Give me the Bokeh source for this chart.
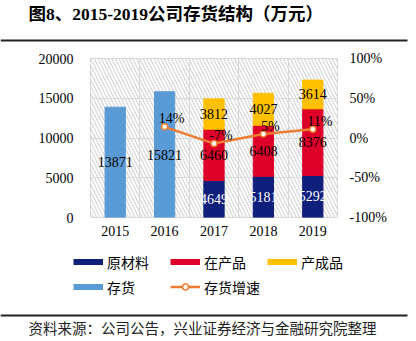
from bokeh.plotting import figure
from bokeh.layouts import column
from bokeh.models import (ColumnDataSource, Range1d, LinearAxis, FixedTicker, Label,
                          BoxAnnotation, Legend, LegendItem, FactorRange)
from bokeh.core.properties import value
from bokeh.embed import file_html
from bokeh.resources import INLINE

# ---------------- data ----------------
years = ["2015", "2016", "2017", "2018", "2019"]
inventory_years = ["2015", "2016"]
inventory_values = [13871, 15821]
stack_years = ["2017", "2018", "2019"]
raw_material = [4649, 5181, 5292]
work_in_progress = [6460, 6408, 8376]
finished_goods = [3812, 4027, 3614]
growth_years = ["2016", "2017", "2018", "2019"]
growth_pct = [14, -7, 5, 11]
left_ticks = [0, 5000, 10000, 15000, 20000]
right_ticks = [-100, -50, 0, 50, 100]
series_names = ["原材料", "在产品", "产成品", "存货", "存货增速"]
title_text = "图8、2015-2019公司存货结构（万元）"
source_text = "资料来源：公司公告，兴业证券经济与金融研究院整理"

# ---------------- style ----------------
NAVY = "#0E1F7C"
RED = "#DF0029"
YELLOW = "#FFC000"
LBLUE = "#5B9BD5"
ORANGE = "#ED7D31"
GRID = "#D9D9D9"
HATCH = "#D6D6D6"
RULE = "#222222"
SERIF = "Liberation Serif"
CJK = "Noto Sans CJK SC"
BAR_W = 0.41
W = 416


def blank_fig(h):
    f = figure(width=W, height=h, x_range=Range1d(0, W), y_range=Range1d(0, h),
               x_axis_type=None, y_axis_type=None, output_backend="svg",
               toolbar_location=None, min_border=0)
    f.frame_align = False
    f.grid.visible = False
    f.outline_line_color = None
    f.background_fill_color = "white"
    f.border_fill_color = "white"
    return f


def rule(top, bottom):
    return BoxAnnotation(left=0, right=407, top=top, bottom=bottom, left_units="screen",
                         right_units="screen", top_units="screen", bottom_units="screen",
                         fill_color=RULE, fill_alpha=1, line_alpha=0)


# ---------------- header ----------------
TOP_H = 50
head = blank_fig(TOP_H)
head.add_layout(Label(x=28, y=TOP_H - 13, x_units="screen", y_units="screen", text=title_text,
                      text_font=f"{SERIF}, {CJK}", text_font_style="bold",
                      text_font_size="17.5px", text_baseline="middle", text_color="black"))
head.add_layout(rule(TOP_H - 39, TOP_H - 41))

# ---------------- main chart ----------------
p = figure(x_range=FactorRange(*years), y_range=Range1d(0, 20000),
           width=W, height=195, output_backend="svg", toolbar_location=None,
           min_border_left=90, min_border_right=79, min_border_top=8, min_border_bottom=28)
p.frame_align = False
p.extra_y_ranges = {"pct": Range1d(-100, 100)}
p.background_fill_color = "white"
p.border_fill_color = "white"
p.outline_line_color = GRID

p.add_layout(BoxAnnotation(fill_alpha=0, line_alpha=0, hatch_pattern="\\", hatch_color=HATCH,
                           hatch_scale=7, hatch_weight=1.2, level="image"))

p.ygrid.ticker = FixedTicker(ticks=left_ticks)
p.ygrid.grid_line_color = GRID
p.xgrid.ticker = FixedTicker(ticks=list(range(len(years) + 1)))
p.xgrid.grid_line_color = GRID

p.yaxis.ticker = FixedTicker(ticks=left_ticks)
for ax in [p.yaxis[0], p.xaxis[0]]:
    ax.axis_line_color = None
    ax.major_tick_line_color = None
    ax.minor_tick_line_color = None
    ax.major_tick_out = 0
    ax.major_label_text_font = SERIF
    ax.major_label_text_font_size = "14px"
    ax.major_label_text_color = "#000000"
p.yaxis.major_label_standoff = 17
p.xaxis.major_label_standoff = 8

raxis = LinearAxis(y_range_name="pct", ticker=FixedTicker(ticks=right_ticks),
                   major_label_overrides={t: f"{t}%" for t in right_ticks})
raxis.axis_line_color = None
raxis.major_tick_line_color = None
raxis.minor_tick_line_color = None
raxis.major_tick_out = 0
raxis.major_label_standoff = 12
raxis.major_label_text_font = SERIF
raxis.major_label_text_font_size = "14px"
raxis.major_label_text_color = "#000000"
p.add_layout(raxis, "right")

inv_src = ColumnDataSource(dict(x=inventory_years, top=inventory_values,
                                mid=[v / 2 for v in inventory_values],
                                lab=[str(v) for v in inventory_values]))
p.vbar(x="x", top="top", width=BAR_W, source=inv_src, fill_color=LBLUE, line_color=LBLUE)

st_src = ColumnDataSource(dict(
    x=stack_years, raw=raw_material, wip=work_in_progress, fin=finished_goods,
    raw_mid=[r / 2 for r in raw_material],
    wip_mid=[r + w / 2 for r, w in zip(raw_material, work_in_progress)],
    fin_mid=[r + w + f / 2 for r, w, f in zip(raw_material, work_in_progress, finished_goods)],
    raw_lab=[str(v) for v in raw_material],
    wip_lab=[str(v) for v in work_in_progress],
    fin_lab=[str(v) for v in finished_goods],
))
p.vbar_stack(["raw", "wip", "fin"], x="x", width=BAR_W, source=st_src,
             fill_color=[NAVY, RED, YELLOW], line_color=[NAVY, RED, YELLOW])

lab_kw = dict(text_align="center", text_baseline="middle", text_font=value(SERIF),
              text_font_size="14px")
p.text(x="x", y="mid", text="lab", source=inv_src, text_color="black", **lab_kw)
p.text(x="x", y="raw_mid", text="raw_lab", source=st_src, text_color="white", **lab_kw)
p.text(x="x", y="wip_mid", text="wip_lab", source=st_src, text_color="black", **lab_kw)
p.text(x="x", y="fin_mid", text="fin_lab", source=st_src, text_color="black", **lab_kw)

g_src = ColumnDataSource(dict(x=growth_years, y=growth_pct, lab=[f"{g}%" for g in growth_pct]))
p.line(x="x", y="y", source=g_src, y_range_name="pct", line_color=ORANGE, line_width=2.5)
p.scatter(x="x", y="y", source=g_src, y_range_name="pct", size=6, fill_color="white",
          line_color=ORANGE, line_width=1.5)
p.text(x="x", y="y", text="lab", source=g_src, y_range_name="pct", x_offset=7, y_offset=-8,
       text_color="black", **lab_kw)

# ---------------- footer: legend + source ----------------
FOOT_H = 96
foot = blank_fig(FOOT_H)
sw = dict(x=[0], y=[0], visible=False)
leg_raw = foot.line(line_color=NAVY, line_width=6, **sw)
leg_wip = foot.line(line_color=RED, line_width=6, **sw)
leg_fin = foot.line(line_color=YELLOW, line_width=6, **sw)
leg_inv = foot.line(line_color=LBLUE, line_width=6, **sw)
leg_gl = foot.line(line_color=ORANGE, line_width=2.5, **sw)
leg_gp = foot.scatter(size=6, fill_color="white", line_color=ORANGE, line_width=1.5, **sw)

leg_kw = dict(orientation="horizontal", glyph_width=30, glyph_height=15, label_height=15,
              label_width=53, label_standoff=4, spacing=10, padding=0, margin=0,
              border_line_alpha=0, background_fill_alpha=0, inactive_fill_alpha=0,
              label_text_font=CJK, label_text_font_size="14px", label_text_color="black")
legend1 = Legend(items=[LegendItem(label=series_names[0], renderers=[leg_raw]),
                        LegendItem(label=series_names[1], renderers=[leg_wip]),
                        LegendItem(label=series_names[2], renderers=[leg_fin])],
                 location=(73, FOOT_H - 26.5), **leg_kw)
legend2 = Legend(items=[LegendItem(label=series_names[3], renderers=[leg_inv]),
                        LegendItem(label=series_names[4], renderers=[leg_gl, leg_gp])],
                 location=(73, FOOT_H - 51.5), **leg_kw)
foot.add_layout(legend1)
foot.add_layout(legend2)
foot.add_layout(rule(FOOT_H - 69, FOOT_H - 71))
foot.add_layout(Label(x=28, y=FOOT_H - 82, x_units="screen", y_units="screen", text=source_text,
                      text_font=CJK, text_font_size="14.5px", text_baseline="middle",
                      text_color="#222222"))

layout = column(head, p, foot, spacing=0)
open("out.html", "w").write(file_html(layout, INLINE))
